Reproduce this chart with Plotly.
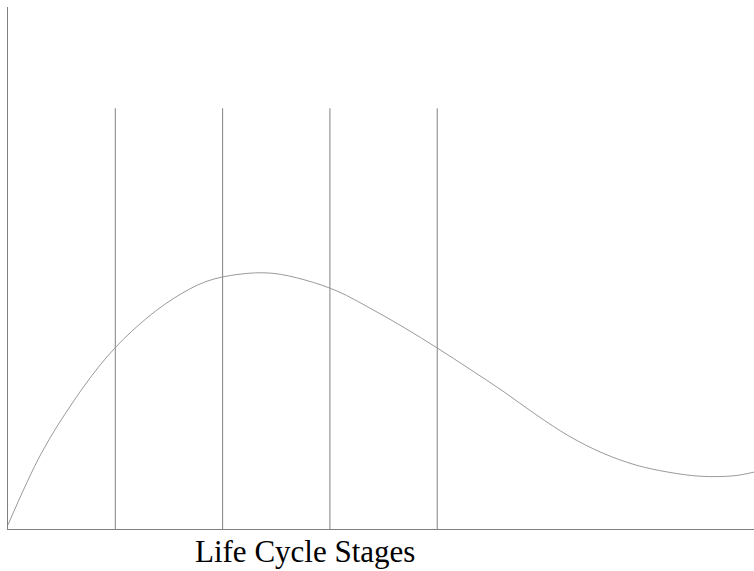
import plotly.graph_objects as go

# Curve (stage units, % of height)
curve_x = [0.0, 0.308, 0.615, 0.923, 1.230, 1.538, 1.845, 2.153, 2.460, 2.768, 3.076, 3.383,
           3.691, 3.998, 4.306, 4.613, 4.921, 5.228, 5.536, 5.843, 6.151, 6.458, 6.766, 6.952]
curve_y = [0.8, 14.4, 24.6, 33.0, 39.3, 44.1, 47.4, 48.8, 49.0, 47.7, 45.5, 42.2,
           38.6, 34.7, 30.6, 26.4, 21.9, 17.8, 14.6, 12.3, 10.9, 10.1, 10.2, 10.9]

stage_bounds = [1, 2, 3, 4]
bound_top = 80.6
x_title = "Life Cycle Stages"

vx, vy = [], []
for b in stage_bounds:
    vx += [b, b, None]
    vy += [0, bound_top, None]

fig = go.Figure()
fig.add_trace(go.Scatter(x=vx, y=vy, mode="lines",
                         line=dict(color="#808080", width=1), hoverinfo="skip"))
fig.add_trace(go.Scatter(x=curve_x, y=curve_y, mode="lines", line_shape="spline",
                         line=dict(color="#9a9a9a", width=1, smoothing=1.0), hoverinfo="skip"))

fig.add_annotation(text=x_title, xref="paper", yref="paper", x=(304.5 - 8) / 746, y=-22 / 522,
                   showarrow=False, xanchor="center", yanchor="middle",
                   font=dict(family="Liberation Serif", size=31, color="black"))

fig.update_layout(
    width=754, height=571,
    margin=dict(l=8, r=0, t=7, b=42),
    paper_bgcolor="white", plot_bgcolor="white",
    showlegend=False,
    hovermode=False,
    xaxis=dict(range=[0, 6.952], showgrid=False, zeroline=False, showticklabels=False,
               ticks="", showline=True, linecolor="#808080", linewidth=1),
    yaxis=dict(range=[0, 100], showgrid=False, zeroline=False, showticklabels=False,
               ticks="", showline=True, linecolor="#808080", linewidth=1),
)
fig.write_html(
    "out.html",
    config={"displayModeBar": False},
    post_script="document.body.style.margin='0';"
                "document.body.style.overflow='hidden';"
                "document.documentElement.style.overflow='hidden';",
)
